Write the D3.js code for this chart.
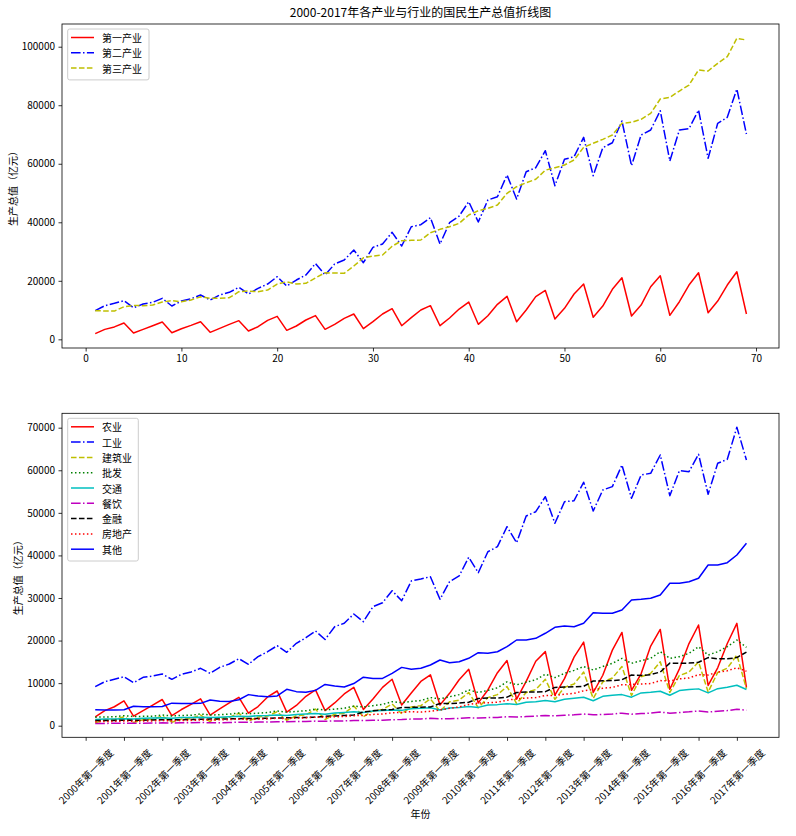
<!DOCTYPE html>
<html><head><meta charset="utf-8">
<script src="https://cdn.jsdelivr.net/npm/d3@7"></script>
<style>
body{margin:0;background:#fff;}
text{font-family:"Noto Sans CJK SC","Noto Sans",sans-serif;fill:#000;}
</style></head>
<body><svg id="c" width="796" height="836"></svg>
<script>
// ---------- DATA ----------
const years = d3.range(2000, 2018);
const tickLabels = years.map(y => y + "年第一季度");
const tickIndex = d3.range(0, 69, 4);
const seq = d3.range(1, 70); // 序号 1..69

const primary = [1950,3400,4250,5600, 2160,3420,4660,5910, 2270,3640,4780,6030, 2390,3760,5130,6380,
  2850,4320,6490,7860, 3080,4560,6610,8100, 3420,5130,7180,8660, 3640,6030,8660,10470,
  4660,7400,10020,11500, 4660,7290,10360,12750, 5130,8080,11960,14700, 6030,10020,14580,16700,
  6940,10600,15480,18900, 7520,11380,17090,21050, 7960,11720,17980,21740, 8200,12850,18560,22760,
  9090,13090,18560,23100, 8650];
const secondary = [9790,11500,12300,13200, 10800,12080,12640,14010, 11390,13100,13880,15150, 13440,15150,16060,17770,
  15490,17430,18900,21400, 18220,20270,21980,25900, 21980,25730,27100,30520, 26180,31440,32570,36570,
  31890,38480,39170,41560, 32570,39850,42140,47030, 40090,47610,48740,56150, 47950,57280,58650,64460,
  52500,61520,62400,69040, 55910,65480,67190,74610, 59330,69820,71530,78130, 60940,71530,71980,78370,
  61860,73820,75870,85540, 70160];
const tertiary = [9790,9700,9650,11150, 11600,11500,11730,12750, 13200,12860,13440,14570, 14010,14010,14220,16270,
  16510,16270,16850,18900, 19690,18900,19140,21000, 22760,22660,22560,25050, 27850,28470,28810,31800,
  33700,33830,33940,36430, 37590,38480,39640,42480, 43950,44770,45900,49900, 52150,53520,54680,57800,
  58650,59570,61280,65620, 66990,68350,69820,73820, 74160,75190,77240,82130, 82710,84860,86910,92040,
  91700,94330,96580,102870, 102290];

const agriculture = [2050,3550,4450,5850, 2250,3550,4850,6150, 2350,3800,5000,6300, 2500,3950,5350,6650,
  2950,4500,6750,8150, 3200,4750,6900,8400, 3550,5350,7450,9000, 3800,6250,9000,10900,
  4850,7700,10400,11950, 4850,7600,10800,13250, 5350,8400,12450,15300, 6250,10400,15150,17400,
  7200,11050,16100,19650, 7800,11850,17750,21900, 8300,12200,18700,22600, 8550,13350,19300,23650,
  9450,13600,19300,24050, 9000];
const industry = [9160,10340,10900,11510, 10100,11370,11670,12140, 10900,12070,12610,13480, 12300,13720,14490,15740,
  14420,16210,17380,18790, 17240,19360,20670,22250, 20250,23260,24060,26240, 24430,27950,28890,31710,
  29360,33990,34460,35000, 29690,33830,35170,39560, 35940,40870,42050,46750, 42990,49260,50270,53790,
  47550,52620,52860,57180, 50430,55370,56150,61240, 53420,58890,59290,63590, 54030,59900,59670,63750,
  54360,61640,62580,70100, 62410];
const construction = [700,1300,1400,2100, 750,1400,1500,2300, 820,1550,1650,2500, 950,1800,1950,2900,
  1100,2050,2250,3300, 1250,2350,2550,3900, 1450,2700,2950,4600, 2100,3500,3800,5100,
  2800,4400,4700,6300, 3400,5600,6000,7800, 4200,6600,7300,9200, 5200,7800,8500,10900,
  6200,9000,9800,12600, 6400,10300,11200,13900, 7100,11500,12300,15000, 7800,11800,12600,15000,
  7900,12500,13500,16600, 8700];
const wholesale = [2000,2050,2100,2350, 2150,2200,2250,2500, 2300,2400,2450,2750, 2500,2600,2700,3000,
  2800,2950,3100,3450, 3200,3350,3500,3900, 3700,3900,4100,4600, 4400,4700,5000,5640,
  5400,5700,5900,6600, 6300,6800,7300,8400, 7800,8300,8900,10300, 9600,10200,10800,12100,
  11300,12300,13000,13900, 13100,13900,14650,15800, 14650,15270,15830,17400, 15830,16210,17000,18560,
  16600,17380,18560,20130, 18410];
const transport = [1450,1550,1600,1650, 1600,1750,1800,1850, 1750,1900,1950,2000, 1900,2000,2100,2200,
  2150,2350,2400,2500, 2400,2650,2750,2850, 2700,3000,3100,3250, 3100,3450,3550,3700,
  3600,4000,4100,4200, 3700,4150,4300,4500, 4300,4850,4950,5150, 5000,5500,5650,5900,
  5640,6200,6450,6700, 5850,6900,7150,7300, 6700,7700,7850,8100, 7150,8250,8500,8650,
  7700,8700,9050,9500, 8500];
const catering = [520,540,560,600, 580,600,620,670, 640,670,690,740, 700,700,760,830,
  800,850,880,950, 920,970,1000,1080, 1050,1100,1130,1230, 1200,1270,1300,1400,
  1450,1550,1600,1730, 1600,1650,1700,1850, 1800,1900,1950,2100, 2050,2150,2250,2400,
  2300,2450,2550,2750, 2550,2650,2750,2950, 2700,2850,2950,3200, 2950,3100,3250,3450,
  3200,3400,3550,3850, 3650];
const finance = [1200,1200,1250,1300, 1300,1300,1350,1400, 1400,1400,1450,1500, 1550,1550,1600,1650,
  1700,1700,1750,1800, 1850,1900,1950,2000, 2200,2300,2400,2500, 3200,3500,3700,3800,
  4300,4300,4350,4400, 5200,5200,5300,5500, 6400,6500,6500,6700, 7800,7900,7900,8000,
  9000,9100,9150,9250, 10500,10550,10600,10800, 11900,11800,12000,12600, 14700,14650,14700,14900,
  16000,15700,15700,16000, 17300];
const realEstate = [950,1000,1020,1100, 1050,1100,1130,1220, 1150,1220,1250,1350, 1300,1380,1420,1550,
  1450,1550,1600,1750, 1650,1800,1850,2000, 1950,2100,2150,2350, 2400,2650,2750,3050,
  3100,3300,3200,3400, 3700,4100,4400,5000, 5300,5400,5500,6000, 6300,6500,6600,7100,
  7100,7400,7600,8200, 8500,8800,9000,9600, 9700,9800,9900,10600, 10500,11000,11200,12000,
  11900,12600,12900,13600, 12800];
const others = [3760,3680,3680,3760, 4550,4460,4460,4500, 5300,5200,5200,5250, 6030,5720,5700,6100,
  7300,6950,6800,7000, 8550,8000,7850,8300, 9700,9300,9100,9900, 11400,11100,11100,12300,
  13700,13250,13480,14250, 15430,14800,15030,15830, 17150,17000,17380,18560, 20130,20130,20530,21710,
  23100,23420,23260,24050, 26550,26400,26400,27180, 29530,29690,29930,30700, 33450,33450,33830,34630,
  37750,37750,38290,40100, 42850];

const topNames = ["第一产业","第二产业","第三产业"];
const bottomNames = ["农业","工业","建筑业","批发","交通","餐饮","金融","房地产","其他"];
const topTicksY = d3.range(0, 100001, 20000);
const bottomTicksY = d3.range(0, 70001, 10000);
const topTicksX = d3.range(0, 71, 10);

// ---------- STYLES ----------
const DASHED = "5.55,2.4", DASHDOT = "9.6,2.4,1.5,2.4", DOTTED = "1.5,2.475";
const topSeries = [
  {name: topNames[0], values: primary, color: "#ff0000", dash: null},
  {name: topNames[1], values: secondary, color: "#0000ff", dash: DASHDOT},
  {name: topNames[2], values: tertiary, color: "#bfbf00", dash: DASHED}
];
const bottomSeries = [
  {name: bottomNames[0], values: agriculture, color: "#ff0000", dash: null},
  {name: bottomNames[1], values: industry, color: "#0000ff", dash: DASHDOT},
  {name: bottomNames[2], values: construction, color: "#bfbf00", dash: DASHED},
  {name: bottomNames[3], values: wholesale, color: "#008000", dash: DOTTED},
  {name: bottomNames[4], values: transport, color: "#00bfbf", dash: null},
  {name: bottomNames[5], values: catering, color: "#bf00bf", dash: DASHDOT},
  {name: bottomNames[6], values: finance, color: "#000000", dash: DASHED},
  {name: bottomNames[7], values: realEstate, color: "#ff0000", dash: DOTTED},
  {name: bottomNames[8], values: others, color: "#0000ff", dash: null}
];

const svg = d3.select("#c");
const L = 62, R = 779;

function panel(cfg) {
  const x = d3.scaleLinear().domain([-2.47, 72.4]).range([L, R]);
  const y = d3.scaleLinear().domain(cfg.yDomain).range([cfg.bottom, cfg.top]);
  const g = svg.append("g");
  const clipId = "clip" + cfg.top;
  g.append("clipPath").attr("id", clipId).append("rect")
    .attr("x", L).attr("y", cfg.top).attr("width", R - L).attr("height", cfg.bottom - cfg.top);

  const line = d3.line().x((d, i) => x(seq[i])).y(d => y(d));
  const lines = g.append("g").attr("clip-path", `url(#${clipId})`);
  cfg.series.forEach(s => {
    lines.append("path").attr("d", line(s.values)).attr("fill", "none")
      .attr("stroke", s.color).attr("stroke-width", 1.5)
      .attr("stroke-dasharray", s.dash).attr("stroke-linejoin", "round");
  });

  // axes
  const ya = d3.axisLeft(y).tickValues(cfg.yTicks).tickSize(3.5).tickPadding(3.5).tickFormat(d3.format("d"));
  const yg = g.append("g").attr("transform", `translate(${L},0)`).call(ya);
  let xa;
  if (cfg.xLabels) {
    xa = d3.axisBottom(x).tickValues(tickIndex).tickSize(3.5).tickFormat("");
  } else {
    xa = d3.axisBottom(x).tickValues(topTicksX).tickSize(3.5).tickPadding(3.5).tickFormat(d3.format("d"));
  }
  const xg = g.append("g").attr("transform", `translate(0,${cfg.bottom})`).call(xa);
  [yg, xg].forEach(a => {
    a.select(".domain").remove();
    a.selectAll(".tick line").attr("stroke", "#000").attr("stroke-width", 0.8);
    a.selectAll(".tick text").attr("font-size", 10).attr("fill", "#000")
      .attr("font-family", '"Noto Sans CJK SC",sans-serif');
  });
  if (cfg.xLabels) {
    tickIndex.forEach((t, k) => {
      g.append("text").attr("transform", `translate(${x(t)},776) rotate(-45)`)
        .attr("text-anchor", "middle").attr("dominant-baseline", "central")
        .attr("font-size", 10).text(tickLabels[k]);
    });
  }
  // frame
  g.append("rect").attr("x", L).attr("y", cfg.top).attr("width", R - L).attr("height", cfg.bottom - cfg.top)
    .attr("fill", "none").attr("stroke", "#000").attr("stroke-width", 0.8);

  // y label
  g.append("text").attr("transform", `translate(${cfg.ylabX},${(cfg.top + cfg.bottom) / 2}) rotate(-90)`)
    .attr("text-anchor", "middle").attr("dominant-baseline", "central").attr("font-size", 10)
    .text("生产总值（亿元）");

  // legend
  const lg = g.append("g");
  const n = cfg.series.length;
  lg.append("rect").attr("x", 67.7).attr("y", cfg.top + 5).attr("rx", 2).attr("ry", 2)
    .attr("width", cfg.legW).attr("height", cfg.legStep * n + 5)
    .attr("fill", "#fff").attr("fill-opacity", 0.8).attr("stroke", "#cccccc").attr("stroke-width", 1);
  cfg.series.forEach((s, i) => {
    const yy = cfg.top + 13.5 + i * cfg.legStep;
    lg.append("line").attr("x1", 71).attr("x2", 94).attr("y1", yy).attr("y2", yy)
      .attr("stroke", s.color).attr("stroke-width", 1.5).attr("stroke-dasharray", s.dash);
    lg.append("text").attr("x", 102).attr("y", yy).attr("dominant-baseline", "central")
      .attr("font-size", 10).text(s.name);
  });
}

panel({top: 24, bottom: 348, yDomain: [-2960, 107760], yTicks: topTicksY, series: topSeries,
  xLabels: false, ylabX: 12, legW: 81.3, legStep: 15.3});
panel({top: 413.3, bottom: 737.3, yDomain: [-2725, 73383], yTicks: bottomTicksY, series: bottomSeries,
  xLabels: true, ylabX: 17.5, legW: 70.6, legStep: 15.3});

svg.append("text").attr("x", 420.5).attr("y", 17).attr("text-anchor", "middle").attr("font-size", 12)
  .text("2000-2017年各产业与行业的国民生产总值折线图");
svg.append("text").attr("x", 420.5).attr("y", 813).attr("text-anchor", "middle")
  .attr("dominant-baseline", "central").attr("font-size", 10).text("年份");
</script></body></html>
